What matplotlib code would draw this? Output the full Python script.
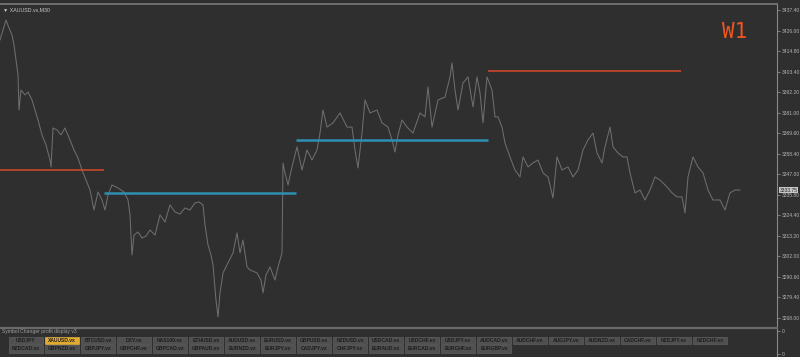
import matplotlib
matplotlib.use("Agg")
import matplotlib.pyplot as plt
from matplotlib.patches import Rectangle

# price trace (bar position, close)
bars = [0, 3, 6, 9, 12, 14, 16, 18, 19, 21, 25, 28, 32, 35, 38, 42, 46, 50, 51, 53,
        57, 61, 65, 70, 74, 78, 82, 86, 90, 94, 98, 102, 105, 108, 112, 118, 124, 128,
        130, 132, 134, 138, 142, 146, 150, 155, 160, 165, 170, 175, 180, 185, 190, 195,
        199, 203, 205, 208, 211, 213, 216, 218, 220, 223, 228, 233, 237, 240, 243, 247,
        250, 257, 261, 263, 266, 270, 275, 278, 282, 283, 285, 288, 292, 297, 302, 307,
        312, 317, 320, 323, 327, 333, 340, 347, 352, 355, 358, 362, 365, 370, 377, 382,
        388, 392, 395, 398, 402, 407, 413, 420, 425, 428, 432, 438, 445, 450, 452, 455,
        458, 463, 468, 473, 477, 480, 483, 487, 492, 495, 498, 502, 505, 510, 515, 520,
        523, 528, 533, 538, 543, 548, 553, 557, 562, 568, 573, 578, 583, 588, 593, 597,
        602, 605, 610, 613, 618, 623, 627, 630, 635, 640, 645, 650, 655, 660, 667, 672,
        677, 682, 685, 688, 693, 698, 703, 708, 713, 720, 725, 730, 735, 740]
closes = [3420.9, 3426.4, 3431.9, 3427.5, 3423.7, 3418.2, 3409.9, 3401.7, 3382.4, 3393.4,
          3390.7, 3392.3, 3387.9, 3382.4, 3376.9, 3368.7, 3363.2, 3354.9, 3351.1, 3372.5,
          3371.4, 3368.7, 3372.5, 3365.9, 3360.4, 3356.0, 3349.4, 3343.9, 3338.4, 3327.4,
          3337.3, 3332.9, 3327.4, 3335.6, 3341.2, 3339.5, 3337.3, 3332.9, 3324.7, 3302.7,
          3313.6, 3315.3, 3312.0, 3313.1, 3316.4, 3313.6, 3324.7, 3320.8, 3330.2, 3326.3,
          3325.2, 3328.5, 3327.4, 3331.3, 3331.8, 3330.2, 3319.2, 3308.2, 3302.7, 3297.2,
          3277.9, 3268.6, 3281.8, 3292.8, 3298.3, 3303.8, 3314.8, 3303.8, 3310.9, 3296.1,
          3294.4, 3292.8, 3288.9, 3281.8, 3291.7, 3296.1, 3288.9, 3296.1, 3303.8, 3353.2,
          3347.8, 3341.2, 3351.1, 3362.1, 3349.4, 3360.4, 3354.9, 3360.4, 3369.7, 3382.4,
          3373.0, 3375.3, 3380.8, 3373.0, 3373.0, 3360.4, 3350.5, 3369.7, 3387.9, 3380.8,
          3382.4, 3375.3, 3373.0, 3365.9, 3359.3, 3368.6, 3376.9, 3373.0, 3369.7, 3380.8,
          3378.6, 3395.1, 3373.0, 3387.9, 3389.5, 3400.6, 3408.3, 3393.4, 3382.4, 3397.3,
          3400.6, 3384.1, 3400.6, 3391.8, 3375.3, 3400.6, 3393.4, 3378.6, 3378.6, 3373.0,
          3364.2, 3356.6, 3349.4, 3345.6, 3356.6, 3351.1, 3353.3, 3354.9, 3347.8, 3345.6,
          3334.0, 3356.6, 3349.4, 3351.1, 3345.6, 3349.4, 3360.4, 3365.9, 3369.7, 3358.8,
          3353.3, 3362.1, 3373.0, 3362.1, 3358.8, 3356.6, 3356.6, 3347.8, 3336.8, 3338.4,
          3332.9, 3338.4, 3345.6, 3343.9, 3340.1, 3336.8, 3334.6, 3334.6, 3325.8, 3345.6,
          3356.6, 3351.1, 3347.8, 3338.4, 3332.9, 3332.9, 3327.4, 3336.8, 3338.4, 3338.4]

# weekly levels
level_start = [0, 104, 296, 488]
level_end = [104, 296, 488, 681]
level_price = [3349.4, 3336.8, 3365.9, 3403.8]
level_kind = ["red", "blue", "blue", "red"]

price_ticks = [3437.40, 3426.00, 3414.80, 3403.40, 3392.20, 3381.00, 3369.60, 3358.40,
               3347.00, 3335.80, 3324.40, 3313.20, 3302.00, 3290.60, 3279.40, 3268.00]

symbols_row1 = ["USDJPY", "XAUUSD.vx", "BTCUSD.vx", "DXY.vx", "NAS100.vx", "ETHUSD.vx",
                "AUDUSD.vx", "EURUSD.vx", "GBPUSD.vx", "NZDUSD.vx", "USDCAD.vx",
                "USDCHF.vx", "USDJPY.vx", "AUDCAD.vx", "AUDCHF.vx", "AUDJPY.vx",
                "AUDNZD.vx", "CADCHF.vx", "NZDJPY.vx", "NZDCHF.vx"]
symbols_row2 = ["NZDCAD.vx", "GBPNZD.vx", "GBPJPY.vx", "GBPCHF.vx", "GBPCAD.vx",
                "GBPAUD.vx", "EURNZD.vx", "EURJPY.vx", "CADJPY.vx", "CHFJPY.vx",
                "EURAUD.vx", "EURCAD.vx", "EURCHF.vx", "EURGBP.vx"]
active_symbol = "XAUUSD.vx"
last_price = "3333.75"

BG = "#2f2f2f"
W, H = 800, 357
FONT = "Liberation Sans"

fig = plt.figure(figsize=(8, 3.57), dpi=100, facecolor=BG)

# main price window
ax = fig.add_axes([0, (H - 326) / H, 777 / W, 322 / H], facecolor=BG)
ax.plot(bars, closes, color="#6e6e6e", lw=0.75)
colors = {"red": "#d9492b", "blue": "#2d8fb2"}
widths = {"red": 1.1, "blue": 1.8}
for s, e, p, k in zip(level_start, level_end, level_price, level_kind):
    ax.hlines(p, s, e, color=colors[k], lw=widths[k])

ax.set_xlim(0, 777)
ax.set_ylim(3263.6, 3440.7)
ax.set_xticks([])
ax.yaxis.tick_right()
ax.set_yticks(price_ticks)
ax.set_yticklabels(["%.2f" % t for t in price_ticks], family=FONT)
ax.tick_params(axis="y", colors="#8a8a8a", labelcolor="#b4b4b4", labelsize=3.6,
               length=2, width=0.6, pad=1.5)
for side in ["left", "bottom"]:
    ax.spines[side].set_visible(False)
ax.spines["right"].set_color("#8a8a8a")
ax.spines["right"].set_linewidth(0.8)
ax.spines["top"].set_color("#7a7a7a")
ax.spines["top"].set_linewidth(1.2)

ax.text(3, 3437.6, "\u25bc XAUUSD.vx,M30", color="#c8c8c8", fontsize=3.8, va="center",
        family=[FONT, "DejaVu Sans"])
ax.text(735, 3425.5, "W1", color="#f0561e", fontsize=15, family="DejaVu Sans Mono",
        ha="center", va="center")

# last price marker on the scale
ax.text(1.003, 3338.4, last_price, transform=ax.get_yaxis_transform(), fontsize=3.6,
        color="#202020", va="center", ha="left", family=FONT,
        bbox=dict(boxstyle="square,pad=0.15", fc="#c8c8c8", ec="none"))

# indicator sub-window with symbol buttons
sub = fig.add_axes([0, 0, 777 / W, 29 / H], facecolor=BG)
sub.set_xlim(0, 777)
sub.set_ylim(357, 328)
sub.set_xticks([])
sub.yaxis.tick_right()
sub.set_yticks([331, 354])
sub.set_yticklabels(["0", "0"], family=FONT)
sub.tick_params(axis="y", colors="#8a8a8a", labelcolor="#b4b4b4", labelsize=3.6,
                length=2, width=0.6, pad=1.5)
for side in ["left", "bottom"]:
    sub.spines[side].set_visible(False)
sub.spines["right"].set_color("#8a8a8a")
sub.spines["right"].set_linewidth(0.8)
sub.spines["top"].set_color("#6a6a6a")
sub.spines["top"].set_linewidth(1.6)

sub.text(2, 331.5, "Symbol Changer profit display v3", color="#a0a0a0", fontsize=3.6,
         va="center", family=FONT)

for row, names in enumerate([symbols_row1, symbols_row2]):
    y0 = 336.5 + row * 8.5
    for i, name in enumerate(names):
        x0 = 9 + i * 36
        active = name == active_symbol
        sub.add_patch(Rectangle((x0, y0), 34, 7.5, fc="#e2aa30" if active else "#505050",
                                ec="#f0c050" if active else "#666666", lw=0.4))
        sub.text(x0 + 17, y0 + 3.9, name, fontsize=3.6, ha="center", va="center",
                 color="#1c1c1c", fontweight="bold", family=FONT)

fig.savefig("out.png", dpi=100, facecolor=BG)
